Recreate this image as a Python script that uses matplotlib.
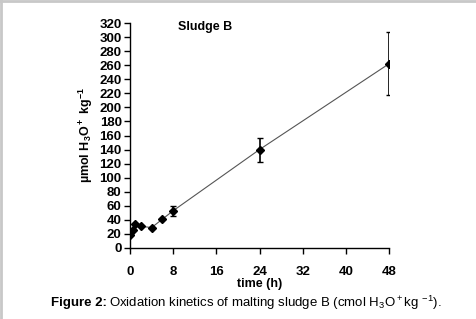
import numpy as np
import matplotlib.pyplot as plt
from matplotlib.lines import Line2D

plt.rcParams['font.family'] = ['Liberation Sans', 'DejaVu Sans']
plt.rcParams['mathtext.fontset'] = 'custom'
plt.rcParams['mathtext.rm'] = 'Liberation Sans'
plt.rcParams['mathtext.bf'] = 'Liberation Sans:bold'
plt.rcParams['mathtext.default'] = 'regular'

time_h = [0, 0.5, 1, 2, 4, 6, 8, 24, 48]
h3o = [18, 25, 34, 31, 29, 41, 53, 140, 262]
err = [0, 0, 0, 0, 0, 0, 7, 17, 45]
x_ticks = [0, 8, 16, 24, 32, 40, 48]
y_ticks = list(range(0, 321, 20))

fig = plt.figure(figsize=(4.76, 3.19), dpi=100)
ax = fig.add_axes([130 / 476, 1 - 248 / 319, (389 - 130) / 476, (248 - 23) / 319])

ax.plot(time_h, h3o, color='#555555', lw=0.8, zorder=1)
ax.errorbar(time_h, h3o, yerr=err, fmt='D', color='black', ms=4,
            elinewidth=1.2, capsize=2.5, capthick=1, zorder=2)

ax.set_xlim(0, 48)
ax.set_ylim(0, 320)
ax.set_xticks(x_ticks)
ax.set_yticks(y_ticks)
ax.spines['top'].set_visible(False)
ax.spines['right'].set_visible(False)
ax.spines['left'].set_linewidth(1)
ax.spines['bottom'].set_linewidth(1)
ax.tick_params(direction='out', length=4, width=1, labelsize=9.5)
ax.tick_params(axis='x', pad=9)
ax.tick_params(axis='y', pad=2)
for lab in ax.get_xticklabels() + ax.get_yticklabels():
    lab.set_fontweight('bold')

ax.set_xlabel('time (h)', fontsize=9, fontweight='bold', labelpad=0)
ax.set_ylabel(r'µmol H$\mathbf{_3}$O$\mathbf{^+}$ kg$\mathbf{^{-1}}$', fontsize=9,
              fontweight='bold', labelpad=3)
ax.text(14, 314, 'Sludge B', fontsize=9, fontweight='bold', ha='center', va='center')

fig.text(51 / 476, 1 - 303 / 319, 'Figure 2:', fontsize=9.5, fontweight='bold', va='center')
fig.text(109 / 476, 1 - 303 / 319, r'Oxidation kinetics of malting sludge B (cmol H$_3$O$^+$kg $^{-1}$).',
         fontsize=9.5, va='center')

# thin grey frame on left and top edge
fig.add_artist(Line2D([0.002, 0.002], [0, 1], color='#c8c8c8', lw=2, transform=fig.transFigure))
fig.add_artist(Line2D([0, 1], [0.998, 0.998], color='#c8c8c8', lw=2, transform=fig.transFigure))

fig.savefig('out.png', dpi=100)
